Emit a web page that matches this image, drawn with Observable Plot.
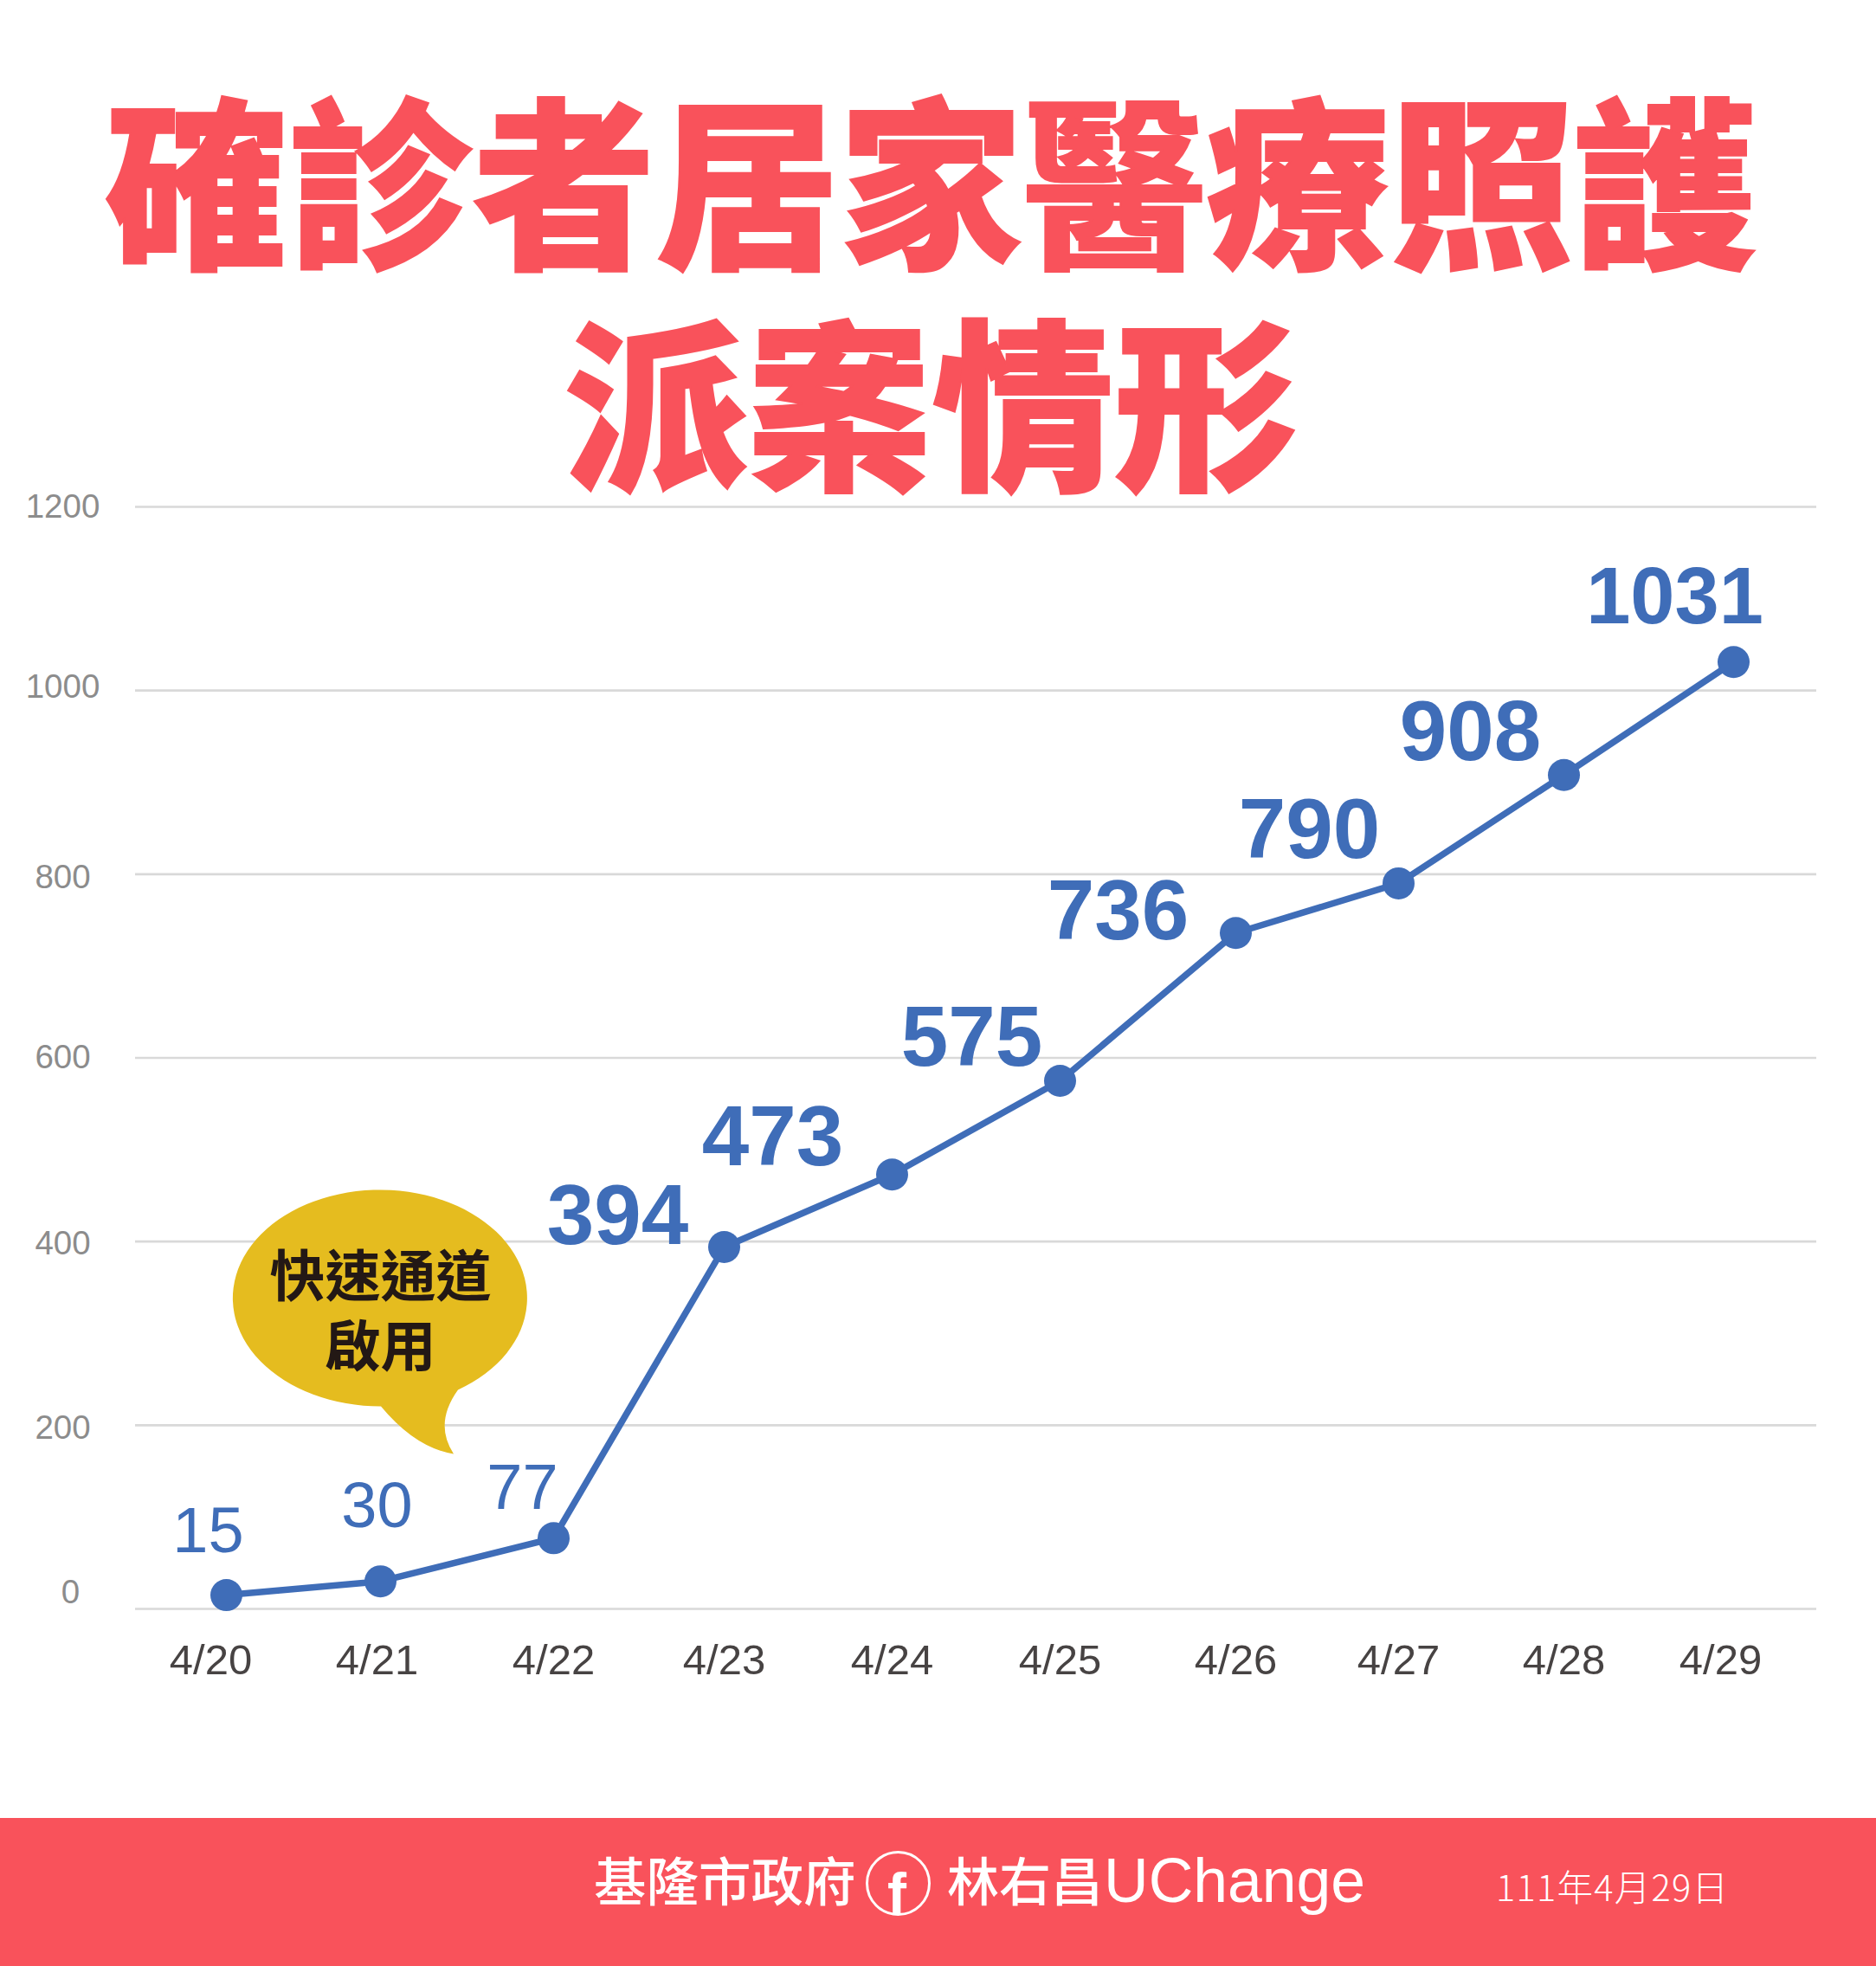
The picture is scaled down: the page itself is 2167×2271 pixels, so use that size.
<!DOCTYPE html>
<html lang="zh-Hant">
<head>
<meta charset="utf-8">
<script src="https://cdn.jsdelivr.net/npm/d3@7"></script>
<script src="https://cdn.jsdelivr.net/npm/@observablehq/plot@0.6"></script>
<style>
  html,body{margin:0;padding:0;background:#fff;}
  #page{position:relative;width:2167px;height:2271px;overflow:hidden;}
  #title{position:absolute;left:0;top:74px;width:2151px;text-align:center;z-index:2;
    font-family:"Noto Sans CJK TC";font-weight:900;font-size:212px;line-height:256px;color:#f9525b;white-space:nowrap;
    -webkit-text-stroke:2px #f9525b;}
  #chart{position:absolute;left:0;top:540px;}
  #chart svg{display:block;background:transparent;}
  #footer{position:absolute;left:0;top:2100px;width:2167px;height:171px;background:#f9525b;color:#fff;}
  #footer span{position:absolute;white-space:nowrap;line-height:1;}
  .cjk{font-family:"Noto Sans CJK TC";}
  .lat{font-family:"Liberation Sans";}
</style>
</head>
<body>
<div id="page">
  <div id="title">確診者居家醫療照護<br>派案情形</div>
  <div id="chart"></div>
  <div id="footer">
    <span class="cjk" style="left:686px;top:40px;font-size:60.5px;font-weight:500;">基隆市政府</span>
    <span style="left:1000px;top:38px;width:69px;height:69px;border:3px solid #fff;border-radius:50%;">
      <span class="lat" style="left:22px;top:20px;font-size:66px;font-weight:700;line-height:0.8;">f</span>
    </span>
    <span class="cjk" style="left:1094px;top:40px;font-size:60px;font-weight:500;">林右昌</span>
    <span class="lat" style="left:1275px;top:37px;font-size:71.5px;">UChange</span>
    <span style="left:1728px;top:58px;font-size:41.5px;font-weight:300;letter-spacing:1.3px;font-family:'Noto Sans CJK TC';">111年4月29日</span>
  </div>
</div>
<script>
// --- chart values ---
const days = [20, 21, 22, 23, 24, 25, 26, 27, 28, 29];
const cases = [15, 30, 77, 394, 473, 575, 736, 790, 908, 1031];
const yTicks = [0, 200, 400, 600, 800, 1000, 1200];
const calloutLines = ["快速通道", "啟用"];

// --- layout (scale stops and label placement, not data) ---
const xStops = [261, 439, 639, 836, 1030, 1224, 1427, 1615, 1806, 2002];
const labelOffset = [[-21,-73],[-4,-86],[-36,-58],[-123,-35],[-138,-42],[-102,-49],[-136,-24],[-103,-61],[-108,-49],[-68,-74]];
const lightLabels = 3; // the first three value labels are in regular weight

const blue = "#3f6db8";
const table = days.map((d, i) => ({day: d, value: cases[i]}));
const latin = "Liberation Sans";

const xAxisBase = {
  anchor: "bottom", tickSize: 0, tickPadding: 41, label: null,
  tickFormat: d => `4/${d}`, fontSize: 49, fontFamily: latin, color: "#474343"
};
const yAxisBase = {
  anchor: "left", tickSize: 0, tickPadding: 84, label: null, textAnchor: "middle",
  tickFormat: d => String(d), fontSize: 38.5, fontFamily: latin, color: "#8c8c8c"
};

// speech bubble anchored on the scales: centred on 4/21, at y = 338
function bubble(index, {x, y}) {
  const cx = x(21) + 1, cy = y(338);
  const d = `M${cx + 89},${cy + 106}A170,125 0 1 0 ${cx},${cy + 125}` +
            `Q${cx + 40},${cy + 173} ${cx + 84},${cy + 180}` +
            `Q${cx + 61},${cy + 145} ${cx + 89},${cy + 106}Z`;
  const el = document.createElementNS("http://www.w3.org/2000/svg", "path");
  el.setAttribute("d", d);
  el.setAttribute("fill", "#e5bc1f");
  return el;
}

const chart = Plot.plot({
  width: 2167,
  height: 1560,
  marginTop: 45,
  marginBottom: 242,
  marginLeft: 156,
  marginRight: 69,
  style: {background: "transparent", overflow: "visible"},
  x: {type: "linear", domain: days, range: xStops},
  y: {domain: [0, 1200]},
  marks: [
    Plot.ruleY(yTicks, {stroke: "#d9d9d9", strokeWidth: 2.7}),
    Plot.axisY({...yAxisBase, ticks: [600, 1200]}),
    Plot.axisY({...yAxisBase, ticks: [200, 400], dy: 3}),
    Plot.axisY({...yAxisBase, ticks: [800], dy: 4}),
    Plot.axisY({...yAxisBase, ticks: [1000], dy: -4}),
    Plot.axisY({...yAxisBase, ticks: [0], dx: 9, dy: -19}),
    Plot.axisX({...xAxisBase, ticks: days.slice(2, -1)}),
    Plot.axisX({...xAxisBase, ticks: [20], dx: -18}),
    Plot.axisX({...xAxisBase, ticks: [21], dx: -4}),
    Plot.axisX({...xAxisBase, ticks: [29], dx: -15}),
    bubble,
    Plot.line(table, {x: "day", y: "value", stroke: blue, strokeWidth: 7.5}),
    Plot.dot(table, {x: "day", y: "value", r: 18.5, fill: blue}),
    ...calloutLines.map((line, i) => Plot.text([line], {
      x: () => 21, y: () => [360, 284][i], text: d => d, fontSize: 64, fontWeight: 700,
      fontFamily: "Noto Sans CJK TC", fill: "#231815", lineAnchor: "middle"
    })),
    ...table.map((d, i) => Plot.text([d], {
      x: "day", y: "value", text: r => String(r.value),
      dx: labelOffset[i][0], dy: labelOffset[i][1],
      fontSize: i < lightLabels ? 74 : (d.value > 999 ? 92 : 98),
      fontWeight: i < lightLabels ? 400 : 700,
      fontFamily: latin, fill: blue, lineAnchor: "middle"
    }))
  ]
});
document.getElementById("chart").append(chart);
</script>
</body>
</html>
